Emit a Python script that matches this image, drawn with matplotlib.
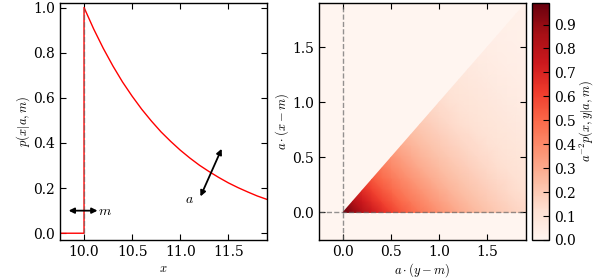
import numpy as np
import matplotlib
matplotlib.use("Agg")
import matplotlib.pyplot as plt
import matplotlib.tri as mtri

plt.rcParams['font.family'] = ['DejaVu Serif']
plt.rcParams['mathtext.fontset'] = 'cm'
plt.rcParams['xtick.direction'] = 'in'
plt.rcParams['ytick.direction'] = 'in'
plt.rcParams['xtick.top'] = True
plt.rcParams['ytick.right'] = True
plt.rcParams['xtick.major.size'] = 4
plt.rcParams['ytick.major.size'] = 4
plt.rcParams['axes.linewidth'] = 1.0

# Werte
m = 10.0
x_curve = [10.0, 10.1, 10.2, 10.3, 10.4, 10.5, 10.6, 10.7, 10.8, 10.9,
           11.0, 11.1, 11.2, 11.3, 11.4, 11.5, 11.6, 11.7, 11.8, 11.9]
p_curve = [1.0, 0.905, 0.819, 0.741, 0.670, 0.607, 0.549, 0.497, 0.449, 0.407,
           0.368, 0.333, 0.301, 0.273, 0.247, 0.223, 0.202, 0.183, 0.165, 0.150]

# Profil entlang der Kante (a*(y-m), bei x=m) fuer die Heatmap
t_edge = [0.0, 0.1, 0.2, 0.3, 0.4, 0.5, 0.6, 0.7, 0.8, 0.9,
          1.0, 1.1, 1.2, 1.3, 1.4, 1.5, 1.6, 1.7, 1.8, 1.9]
p_edge = p_curve

left_ticks = [10.0, 10.5, 11.0, 11.5]
right_ticks = [0.0, 0.5, 1.0, 1.5]
cbar_ticks = [0.0, 0.1, 0.2, 0.3, 0.4, 0.5, 0.6, 0.7, 0.8, 0.9]

fig = plt.figure(figsize=(5.98, 2.78), dpi=100)
ax1 = fig.add_axes([0.1003, 0.1367, 0.346, 0.8525])
ax2 = fig.add_axes([0.5334, 0.1367, 0.346, 0.8525])
cax = fig.add_axes([0.8896, 0.1367, 0.0284, 0.8525])

# linke Seite: Dichte
ax1.plot([9.75] + [m] + x_curve, [0.0, 0.0] + p_curve, color='r', lw=1)
ax1.plot([m, m], [0, 1], '--', color='0.4', lw=1, alpha=0.6)
ax1.annotate('', xy=(9.84, 0.1), xytext=(10.14, 0.1),
             arrowprops=dict(arrowstyle='<|-|>', color='k', lw=1.3,
                             mutation_scale=8, shrinkA=0, shrinkB=0))
ax1.text(10.145, 0.097, '$m$', fontsize=10, ha='left', va='center')
ax1.annotate('', xy=(11.21, 0.163), xytext=(11.43, 0.374),
             arrowprops=dict(arrowstyle='<|-|>', color='k', lw=1.3,
                             mutation_scale=8, shrinkA=0, shrinkB=0))
ax1.text(11.1, 0.15, '$a$', fontsize=10, ha='center', va='center')
ax1.set_xlim(9.75, 11.9)
ax1.set_ylim(-0.03, 1.02)
ax1.set_xticks(left_ticks)
ax1.set_xlabel('$x$', fontsize=9, labelpad=2)
ax1.set_ylabel('$p(x|a,m)$', fontsize=9, labelpad=1)

# rechte Seite: gemeinsame Dichte
cmap = plt.get_cmap('Reds')
px, py, pv = [], [], []
for i in range(len(t_edge)):
    for j in range(i, len(t_edge)):
        px.append(t_edge[j])
        py.append(t_edge[i])
        pv.append(p_edge[i] * p_edge[j])
tri = mtri.Triangulation(px, py)
ax2.set_facecolor(cmap(0.0))
tp = ax2.tripcolor(tri, pv, shading='gouraud', cmap=cmap, vmin=0, vmax=0.99)
ax2.axvline(0, ls='--', color='0.4', lw=1, alpha=0.7)
ax2.axhline(0, ls='--', color='0.4', lw=1, alpha=0.7)
ax2.set_xlim(-0.25, 1.9)
ax2.set_ylim(-0.25, 1.9)
ax2.set_xticks(right_ticks)
ax2.set_yticks(right_ticks)
ax2.set_xlabel(r'$a\cdot(y-m)$', fontsize=9, labelpad=2)
ax2.set_ylabel(r'$a\cdot(x-m)$', fontsize=9, labelpad=1)

cb = fig.colorbar(tp, cax=cax, ticks=cbar_ticks)
cb.set_label('$a^{-2}p(x,y|a,m)$', fontsize=9, labelpad=1)
cax.tick_params(direction='in', length=4)

fig.savefig('out.png', dpi=100)
